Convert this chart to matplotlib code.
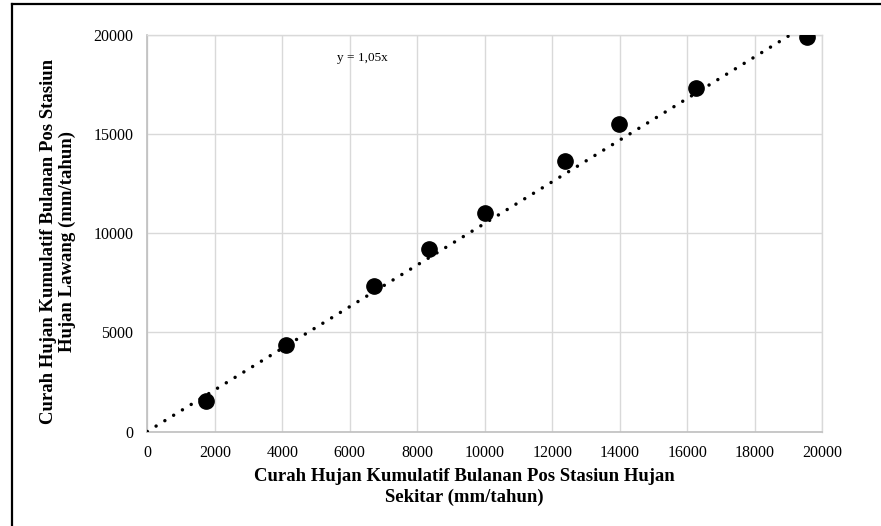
import numpy as np
import matplotlib
matplotlib.use("Agg")
import matplotlib.pyplot as plt
from matplotlib.lines import Line2D

plt.rcParams['font.family'] = ['Liberation Serif', 'DejaVu Serif']

# Cumulative monthly rainfall (mm/tahun)
sekitar = [1730, 4120, 6730, 8350, 10000, 12370, 13980, 16250, 19540]
lawang = [1560, 4350, 7360, 9220, 11020, 13630, 15530, 17330, 19910]
trend_slope = 1.05
x_ticks = [0, 2000, 4000, 6000, 8000, 10000, 12000, 14000, 16000, 18000, 20000]
y_ticks = [0, 5000, 10000, 15000, 20000]

W, H = 881, 526
fig = plt.figure(figsize=(W / 100, H / 100), dpi=100)
ax = fig.add_axes([147.3 / W, 1 - 431.5 / H, 675 / W, 396.5 / H])

# Trendline through the origin
tx = np.array([0, max(sekitar)])
ax.plot(tx, trend_slope * tx, color='black', linewidth=2.5,
        linestyle=(0, (0.01, 2.96)), dash_capstyle='round', zorder=3)

ax.plot(sekitar, lawang, linestyle='none', marker='o', markersize=11,
        color='black', zorder=4)

ax.text(5620, 18860, 'y = 1,05x', fontsize=9.5, va='center', ha='left')

ax.set_xlim(0, 20000)
ax.set_ylim(0, 20000)
ax.set_xticks(x_ticks)
ax.set_yticks(y_ticks)
ax.tick_params(length=0, labelsize=11.5, colors='black')
ax.tick_params(axis='x', pad=10)
ax.tick_params(axis='y', pad=10)
ax.grid(True, color='#d9d9d9', linewidth=1.0)
ax.set_axisbelow(True)
for s in ('top', 'right'):
    ax.spines[s].set_color('#d9d9d9')
    ax.spines[s].set_linewidth(1.0)
for s in ('left', 'bottom'):
    ax.spines[s].set_color('#bfbfbf')
    ax.spines[s].set_linewidth(1.2)

fig.text(464 / W, 1 - 487 / H,
         'Curah Hujan Kumulatif Bulanan Pos Stasiun Hujan\nSekitar (mm/tahun)',
         ha='center', va='center', fontsize=13.5, fontweight='bold',
         linespacing=1.35)
fig.text(58 / W, 1 - 241 / H,
         'Curah Hujan Kumulatif Bulanan Pos Stasiun\nHujan Lawang (mm/tahun)',
         ha='center', va='center', rotation=90, fontsize=13.5,
         fontweight='bold', linespacing=1.15)

# Frame edges on the left and top
fig.add_artist(Line2D([11.5 / W, 11.5 / W], [0, 1 - 3.5 / H],
                      color='black', linewidth=1.6))
fig.add_artist(Line2D([11.5 / W, 1], [1 - 3.5 / H, 1 - 3.5 / H],
                      color='black', linewidth=1.6))

fig.savefig('out.png', dpi=100)
